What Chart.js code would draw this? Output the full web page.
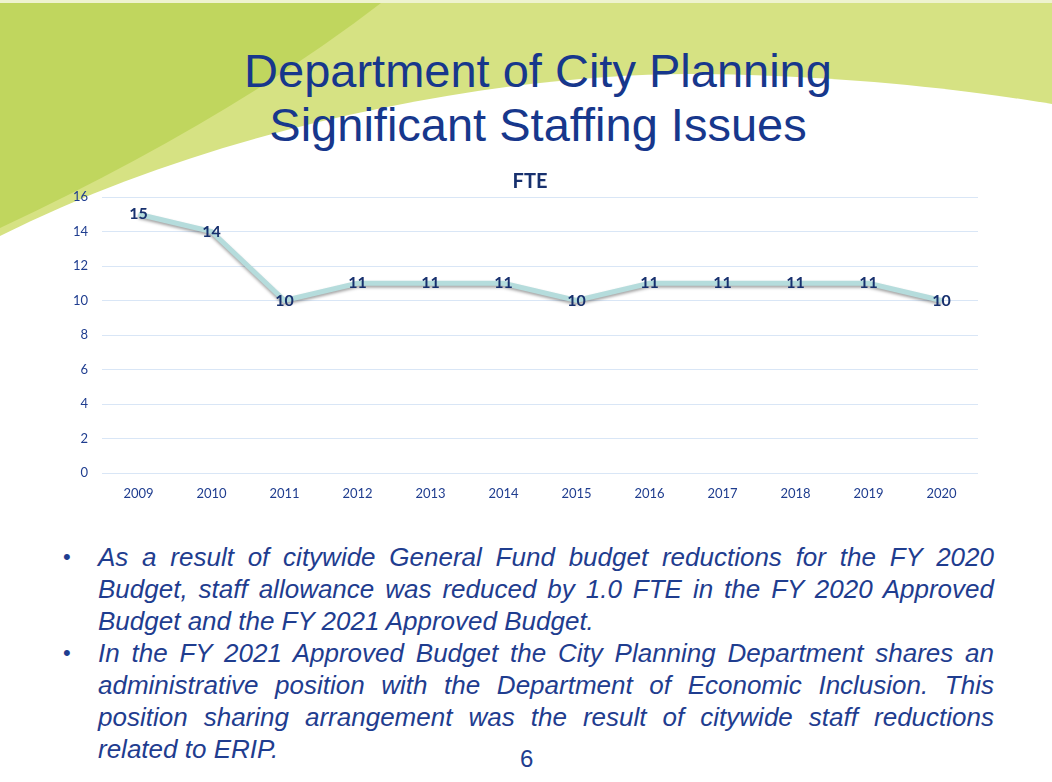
<!DOCTYPE html>
<html>
<head>
<meta charset="utf-8">
<script src="https://cdn.jsdelivr.net/npm/chart.js@4/dist/chart.umd.min.js"></script>
<style>
    body { margin: 0; width: 1052px; height: 782px; overflow: hidden; background: #fff; font-family: "Liberation Sans", Arial, sans-serif; }
    #bg { position: absolute; left: 0; top: 0; }
    .title { position: absolute; left: 0; width: 1076px; text-align: center; color: #17378c; font-size: 47px; line-height: 54px; top: 44px; }
    #chartBox { position: absolute; left: 0; top: 160px; width: 1052px; height: 350px; }
    .bullets { position: absolute; left: 98px; top: 541px; width: 896px; color: #1f3d8f; font-size: 26px; line-height: 32px; font-style: italic; text-align: justify; }
    .bullets p { margin: 0; position: relative; }
    .bullets p::before { content: "•"; font-style: normal; font-size: 22px; position: absolute; left: -35px; }
    .page { position: absolute; left: 520px; top: 745px; color: #1f3d8f; font-size: 24px; }
</style>
</head>
<body>
<svg id="bg" width="1052" height="782">
    <rect x="0" y="0" width="1052" height="782" fill="#d6e283"/>
    <path d="M0,0 L385,0 Q230,120 0,228 Z" fill="#c0d65e"/>
    <path d="M0,236 C230,120 520,72 700,74 C860,76 980,92 1052,104 L1052,782 L0,782 Z" fill="#ffffff"/>
    <rect x="0" y="0" width="1052" height="3" fill="#eef3cf"/>
</svg>
<div class="title">Department of City Planning<br>Significant Staffing Issues</div>
<div id="chartBox"><canvas id="fteChart"></canvas></div>
<div class="bullets">
    <p>As a result of citywide General Fund budget reductions for the FY 2020 Budget, staff allowance was reduced by 1.0 FTE in the FY 2020 Approved Budget and the FY 2021 Approved Budget.</p>
    <p>In the FY 2021 Approved Budget the City Planning Department shares an administrative position with the Department of Economic Inclusion. This position sharing arrangement was the result of citywide staff reductions related to ERIP.</p>
</div>
<div class="page">6</div>
<script>
const years = ['2009', '2010', '2011', '2012', '2013', '2014', '2015', '2016', '2017', '2018', '2019', '2020'];
const fteValues = [15, 14, 10, 11, 11, 11, 10, 11, 11, 11, 11, 10];
const yTicks = [0, 2, 4, 6, 8, 10, 12, 14, 16];

const navy = '#1f3d8f';
const chartFont = 'Lato, "Open Sans", sans-serif';

// shadow under the line, like the slide
const lineShadow = {
    id: 'lineShadow',
    beforeDatasetDraw(chart) {
        const ctx = chart.ctx;
        ctx.save();
        ctx.shadowColor = 'rgba(0,0,0,0.35)';
        ctx.shadowBlur = 3;
        ctx.shadowOffsetY = 2;
    },
    afterDatasetDraw(chart) {
        chart.ctx.restore();
    }
};

// centre the "FTE" title over the plot rather than the whole canvas
const titleOverPlot = {
    id: 'titleOverPlot',
    afterLayout(chart) {
        const t = chart.titleBlock;
        if (t) {
            t.left = 82;
            t.right = chart.chartArea.right;
        }
    }
};

// value labels centred on each point
const valueLabels = {
    id: 'valueLabels',
    afterDatasetsDraw(chart) {
        const ctx = chart.ctx;
        const meta = chart.getDatasetMeta(0);
        ctx.save();
        ctx.font = 'bold 16px ' + chartFont;
        ctx.fillStyle = '#17306e';
        ctx.textAlign = 'center';
        ctx.textBaseline = 'middle';
        meta.data.forEach(function(pt, i) {
            ctx.fillText(fteValues[i], pt.x, pt.y);
        });
        ctx.restore();
    }
};

const ctx = document.getElementById('fteChart').getContext('2d');
new Chart(ctx, {
    type: 'line',
    data: {
        labels: years,
        datasets: [{
            data: fteValues,
            borderColor: '#b5dcdc',
            borderWidth: 5,
            pointRadius: 0,
            tension: 0,
            fill: false
        }]
    },
    options: {
        responsive: true,
        maintainAspectRatio: false,
        animation: false,
        layout: { padding: { left: 0, right: 74, top: 0, bottom: 0 } },
        plugins: {
            legend: { display: false },
            tooltip: { enabled: false },
            title: {
                display: true,
                text: 'FTE',
                color: '#17306e',
                font: { family: chartFont, size: 20, weight: 'bold' },
                padding: { top: 10, bottom: 3 }
            }
        },
        scales: {
            x: {
                offset: true,
                grid: { display: false, drawTicks: false },
                border: { display: false },
                ticks: { color: navy, font: { family: chartFont, size: 13 }, padding: 13, maxRotation: 0 },
                afterFit(s) { s.height = 37; }
            },
            y: {
                min: 0,
                max: 16,
                afterBuildTicks(s) { s.ticks = yTicks.map(v => ({ value: v })); },
                grid: { color: '#d9e6f6', lineWidth: 1, drawTicks: false },
                border: { display: false },
                ticks: { color: navy, font: { family: chartFont, size: 13 }, padding: 14 },
                afterFit(s) { s.width = 102; }
            }
        }
    },
    plugins: [lineShadow, titleOverPlot, valueLabels]
});
</script>
</body>
</html>
